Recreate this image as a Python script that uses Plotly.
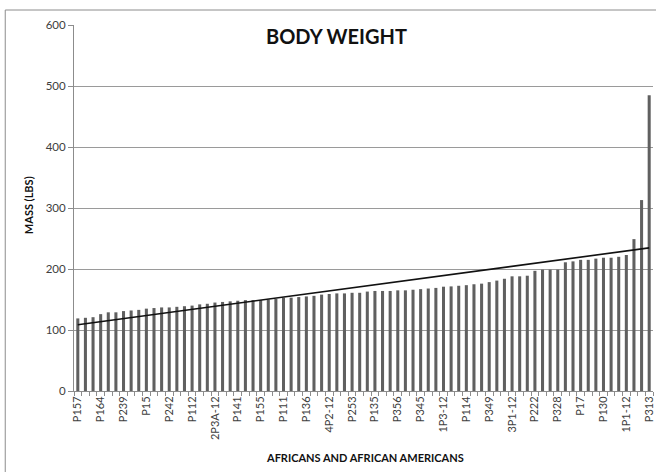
import numpy as np
import plotly.graph_objects as go

# Body weight (lbs) per subject, sorted ascending
weights = [
    119, 120, 121, 126, 129, 129, 131, 132, 133, 135,
    136, 137, 137, 138, 139, 140, 142, 143, 145, 146,
    147, 148, 149, 149, 149, 150, 151, 153, 153, 154,
    155, 156, 158, 159, 160, 160, 161, 161, 163, 164,
    164, 164, 165, 165, 166, 167, 168, 169, 171, 171.5,
    172.5, 173.5, 175, 176, 178.5, 181, 184, 188, 188, 189,
    197, 199, 199, 199, 211, 212.5, 215, 215, 217, 218.5,
    218.5, 220, 223, 249, 313, 485,
]

# Subject IDs shown on the axis (every third subject)
tick_labels = [
    "P157", "P164", "P239", "P15", "P242", "P112", "2P3A-12", "P141",
    "P155", "P111", "P136", "4P2-12", "P253", "P135", "P356", "P345",
    "1P3-12", "P114", "P349", "3P1-12", "P222", "P328", "P17", "P130",
    "1P1-12", "P313",
]

y_ticks = [0, 100, 200, 300, 400, 500, 600]

idx = list(range(len(weights)))
tick_pos = idx[::3]

# Linear trend through the weights
slope, intercept = np.polyfit(idx, weights, 1)
trend = [intercept + slope * i for i in idx]

FONT = "Lato"
fig = go.Figure()
fig.add_trace(go.Bar(
    x=idx, y=weights,
    marker=dict(color="#606060", line=dict(width=0)),
    showlegend=False,
))
fig.add_trace(go.Scatter(
    x=[idx[0], idx[-1]], y=[trend[0], trend[-1]],
    mode="lines", line=dict(color="#111111", width=1.6),
    showlegend=False,
))

W, H = 656, 472
L, R, T, B = 74, 1, 25, 81
pw, ph = W - L - R, H - T - B

def px_x(x):
    return (x - L) / pw

def px_y(y):
    return (H - B - y) / ph

fig.update_layout(
    width=W, height=H,
    margin=dict(l=L, r=R, t=T, b=B),
    paper_bgcolor="white", plot_bgcolor="white",
    bargap=0.6,
    font=dict(family=FONT, color="#404040", size=11),
    shapes=[dict(
        type="rect", xref="paper", yref="paper",
        x0=px_x(5), x1=px_x(W + 10), y0=px_y(H + 10), y1=px_y(10),
        line=dict(color="#8c8c8c", width=1), fillcolor="rgba(0,0,0,0)",
        layer="below",
    )],
    annotations=[
        dict(text="<b>BODY WEIGHT</b>", xref="paper", yref="paper",
             x=px_x(337), y=px_y(36), showarrow=False,
             font=dict(family=FONT, size=20, color="#111111"),
             xanchor="center", yanchor="middle"),
        dict(text="<b>MASS (LBS)</b>", xref="paper", yref="paper",
             x=px_x(28), y=px_y(205), showarrow=False, textangle=-90,
             font=dict(family=FONT, size=11, color="#111111"),
             xanchor="center", yanchor="middle"),
        dict(text="<b>AFRICANS AND AFRICAN AMERICANS</b>", xref="paper",
             yref="paper", x=px_x(366), y=px_y(457), showarrow=False,
             font=dict(family=FONT, size=11, color="#111111"),
             xanchor="center", yanchor="middle"),
    ],
)

fig.update_xaxes(
    range=[-0.5, len(weights) - 0.5],
    tickmode="array", tickvals=tick_pos, ticktext=tick_labels,
    tickangle=-90, ticks="", showgrid=False, zeroline=False,
    showline=True, linecolor="#8c8c8c", linewidth=1,
    ticklabeloverflow="allow",
    tickfont=dict(family=FONT, size=11, color="#404040"),
    minor=dict(ticks="outside", ticklen=4, tickcolor="#8c8c8c",
               dtick=1, tick0=0.5, showgrid=False),
)
fig.update_yaxes(
    range=[0, 600], tickvals=y_ticks,
    showgrid=True, gridcolor="#9a9a9a", gridwidth=1,
    zeroline=False, showline=True, linecolor="#8c8c8c", linewidth=1,
    ticks="outside", ticklen=5, tickcolor="#8c8c8c",
    tickfont=dict(family=FONT, size=11.5, color="#404040"),
)

fig.write_html("out.html")
